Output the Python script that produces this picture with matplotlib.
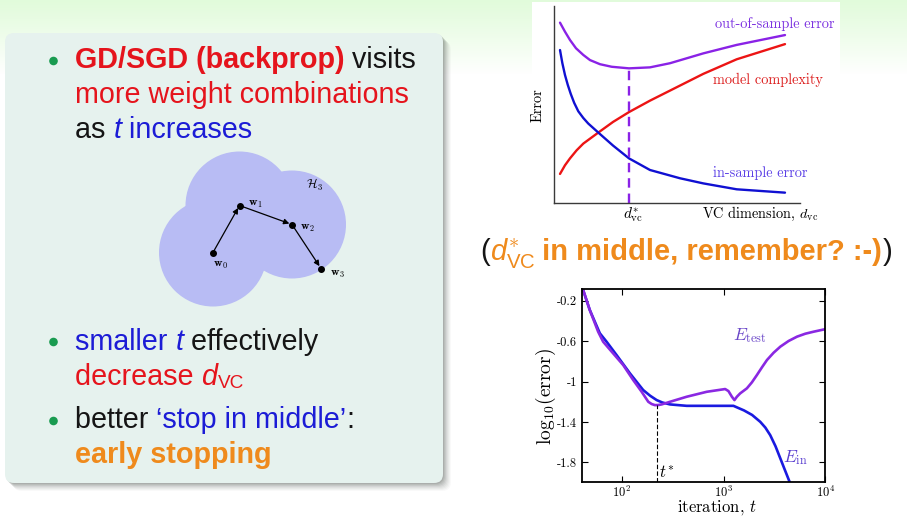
import numpy as np
import matplotlib
matplotlib.use('Agg')
import matplotlib.pyplot as plt
from matplotlib.patches import FancyBboxPatch, Circle, Rectangle, FancyArrowPatch
from matplotlib.ticker import NullLocator

plt.rcParams['mathtext.fontset'] = 'cm'
plt.rcParams['mathtext.rm'] = 'Liberation Sans'
plt.rcParams['mathtext.it'] = 'Liberation Sans:italic'
plt.rcParams['mathtext.bf'] = 'Liberation Sans:bold'
plt.rcParams['axes.unicode_minus'] = False

# ---------------- data: top chart (VC dimension, arbitrary units 0..10) ----------------
out_x = [0.244, 0.447, 0.650, 0.894, 1.191, 1.463, 1.870, 2.346, 3.049, 3.902, 4.715, 6.069, 7.427, 9.390]
out_y = [9.14, 8.68, 8.26, 7.84, 7.50, 7.24, 7.03, 6.90, 6.82, 6.87, 7.08, 7.58, 8.01, 8.51]
cpx_x = [0.244, 0.447, 0.650, 0.920, 1.191, 1.801, 2.400, 3.049, 3.902, 4.715, 6.069, 7.427, 9.390]
cpx_y = [1.46, 1.90, 2.25, 2.66, 3.00, 3.56, 4.10, 4.60, 5.18, 5.69, 6.54, 7.28, 8.05]
ins_x = [0.244, 0.340, 0.447, 0.560, 0.679, 0.820, 0.988, 1.191, 1.391, 1.801, 2.400, 3.049, 3.902,
         5.122, 6.069, 7.427, 9.390]
ins_y = [7.75, 7.08, 6.48, 5.98, 5.53, 5.07, 4.64, 4.30, 4.02, 3.56, 2.90, 2.25, 1.66,
         1.24, 0.98, 0.68, 0.51]
d_star = 3.049
d_star_top = 6.82

# ---------------- data: bottom chart (log10 iteration vs log10 error) ----------------
ein_logt = [1.615, 1.688, 1.787, 1.853, 1.951, 2.082, 2.212, 2.280, 2.344, 2.400, 2.475, 2.639, 2.901, 3.097,
            3.147, 3.200, 3.280, 3.360, 3.410, 3.458, 3.510, 3.557, 3.600, 3.648]
ein_val = [-0.07, -0.292, -0.523, -0.606, -0.738, -0.919, -1.084, -1.140, -1.183, -1.207, -1.226, -1.240, -1.240, -1.240,
           -1.262, -1.285, -1.330, -1.398, -1.455, -1.530, -1.640, -1.760, -1.870, -1.992]
etest_logt = [1.615, 1.688, 1.770, 1.819, 1.917, 2.016, 2.114, 2.197, 2.262, 2.295, 2.327, 2.360, 2.393, 2.475, 2.639,
              2.836, 3.016, 3.048, 3.082, 3.107, 3.131, 3.163, 3.229, 3.278, 3.327, 3.377, 3.426, 3.491, 3.557,
              3.638, 3.721, 3.802, 3.884, 4.016]
etest_val = [-0.07, -0.292, -0.507, -0.606, -0.721, -0.837, -0.985, -1.101, -1.200, -1.222, -1.233, -1.232, -1.226, -1.200, -1.150,
             -1.101, -1.074, -1.094, -1.150, -1.183, -1.150, -1.117, -1.067, -1.008, -0.936, -0.859, -0.787, -0.715, -0.655,
             -0.599, -0.556, -0.527, -0.507, -0.478]
t_star_log = 2.344
t_star_val = -1.233
ytick_vals = [-0.2, -0.6, -1.0, -1.4, -1.8]
ytick_labels = ['-0.2', '-0.6', '-1', '-1.4', '-1.8']
xtick_vals = [1e2, 1e3, 1e4]
xtick_labels = [r'$10^2$', r'$10^3$', r'$10^4$']

# ---------------- data: weight path diagram ----------------
w_names = [r'$\mathbf{w}_0$', r'$\mathbf{w}_1$', r'$\mathbf{w}_2$', r'$\mathbf{w}_3$']
w_px = [213, 239.5, 292, 321]
w_py = [252.5, 205.5, 224.5, 268.5]

# ---------------- slide text ----------------
RED = '#e5141c'
BLUE = '#1c1cd6'
BLACK = '#151515'
ORANGE = '#ef8a1c'
GREEN = '#199b50'
lines = [
    (68, [("GD/SGD (backprop)", RED, {'weight': 'bold'}), (" visits", BLACK)]),
    (103, [("more weight combinations", RED)]),
    (138, [("as ", BLACK), ("t", BLUE, {'style': 'italic'}), (" increases", BLUE)]),
    (350, [("smaller ", BLUE), ("t", BLUE, {'style': 'italic'}), (" effectively", BLACK)]),
    (385, [("decrease ", RED), ("d", RED, {'style': 'italic'}), ("VC", RED, {'scale': 0.66, 'dy': 3})]),
    (428, [("better ", BLACK), ("\u2018stop in middle\u2019", BLUE), (":", BLACK)]),
    (463, [("early stopping", ORANGE, {'weight': 'bold'})]),
]
bullet_y = [61, 342, 421]
middle_line = [("(", BLACK), (r"$d^{\ast}_{\mathrm{VC}}$", ORANGE, {'math': True}),
               (" in middle, remember? :-)", ORANGE, {'weight': 'bold'}), (")", BLACK)]

W, H = 907, 529
FS = 20.7
SANS = 'Liberation Sans'
CM = 'cmr10'

fig = plt.figure(figsize=(W / 100, H / 100), dpi=100)
fig.patch.set_facecolor('white')
bg = fig.add_axes([0, 0, 1, 1])
bg.axis('off')
renderer = fig.canvas.get_renderer()

# top green gradient
rows = 75
g = np.linspace(0, 1, rows)[:, None]
topc = np.array([0.885, 0.985, 0.86])
col = topc[None, :] + (1 - topc[None, :]) * g ** 1.1
bg.imshow(col[:, None, :], extent=[0, W, rows, 0], aspect='auto', zorder=0, interpolation='bilinear')
bg.set_xlim(0, W)
bg.set_ylim(H, 0)

# white area behind the top chart
bg.add_patch(Rectangle((532, 2), 308, 230, fc='white', ec='none', zorder=0.5))

# box with shadow
bx, by, bw, bh = 5, 33, 438, 450
for i, a in enumerate([0.12, 0.10, 0.09, 0.07, 0.06, 0.05, 0.04, 0.03]):
    off = 1 + i
    bg.add_patch(FancyBboxPatch((bx + off, by + off), bw, bh, boxstyle='round,pad=0,rounding_size=9',
                                fc='#4a524c', ec='none', alpha=a, zorder=1))
bg.add_patch(FancyBboxPatch((bx, by), bw, bh, boxstyle='round,pad=0,rounding_size=9',
                            fc='#e6f2ee', ec='none', zorder=2))


def advance(s, kw):
    a = bg.text(0, 0, s + '|', **kw)
    b = bg.text(0, 0, '|', **kw)
    w = a.get_window_extent(renderer).width - b.get_window_extent(renderer).width
    a.remove()
    b.remove()
    return w


def run_line(x, y, runs, base=FS):
    for r in runs:
        s, color = r[0], r[1]
        opt = r[2] if len(r) > 2 else {}
        kw = dict(color=color, fontsize=base * opt.get('scale', 1), fontweight=opt.get('weight', 'normal'),
                  fontstyle=opt.get('style', 'normal'), family=SANS, va='baseline', ha='left', zorder=5)
        if opt.get('math', False):
            kw['math_fontfamily'] = 'custom'
        bg.text(x + opt.get('dx', 0), y + opt.get('dy', 0), s, **kw)
        if opt.get('advance', True):
            x += advance(s, kw)


for y, runs in lines:
    run_line(75, y, runs)
for y in bullet_y:
    bg.add_patch(Circle((53.5, y), 4.3, fc=GREEN, ec='none', zorder=5))
run_line(480, 260, middle_line, base=21.0)

# weight-space diagram
for i in range(3):
    bg.add_patch(Circle((w_px[i], w_py[i]), 54, fc='#b8bcf4', ec='none', zorder=3))
for i in range(3):
    bg.add_patch(FancyArrowPatch((w_px[i], w_py[i]), (w_px[i + 1], w_py[i + 1]), arrowstyle='-|>',
                                 mutation_scale=8, shrinkA=0, shrinkB=2, lw=0.9, color='black', zorder=4))
bg.plot(w_px, w_py, 'o', ms=4, color='black', zorder=4)
lab_off = [(7, 12), (16, -2), (15, 3), (16, 5)]
for i in range(4):
    bg.text(w_px[i] + lab_off[i][0], w_py[i] + lab_off[i][1], w_names[i], fontsize=8.5,
            ha='center', va='center', zorder=5)
bg.text(314, 185, r'$\mathcal{H}_3$', fontsize=9, ha='center', va='center', zorder=5)

# ---------------- top chart ----------------
PURPLE = '#8a22e6'
ax1 = fig.add_axes([554 / W, 1 - 202.7 / H, 246 / W, (202.7 - 5.7) / H])
ax1.patch.set_alpha(0)
ax1.set_xlim(0, 10)
ax1.set_ylim(0, 10)
for s in ['top', 'right']:
    ax1.spines[s].set_visible(False)
for s in ['left', 'bottom']:
    ax1.spines[s].set_color('#3a3a3a')
    ax1.spines[s].set_linewidth(1.0)
ax1.set_xticks([])
ax1.set_yticks([])
ax1.plot(cpx_x, cpx_y, color='#ec1414', lw=1.7, solid_capstyle='round', solid_joinstyle='round')
ax1.plot(ins_x, ins_y, color='#1010d2', lw=1.7, solid_capstyle='round', solid_joinstyle='round')
ax1.plot(out_x, out_y, color=PURPLE, lw=1.7, solid_capstyle='round', solid_joinstyle='round')
ax1.plot([d_star, d_star], [0, d_star_top], color=PURPLE, lw=1.7, dashes=(4, 2.5))

bg.text(715, 28, 'out-of-sample error', family=CM, fontsize=10.3, color='#7b30e0', va='baseline')
bg.text(713, 84, 'model complexity', family=CM, fontsize=10.3, color='#dc1e1e', va='baseline')
bg.text(713, 177, 'in-sample error', family=CM, fontsize=10.3, color='#5b40e6', va='baseline')
bg.text(538, 105, 'Error', family=CM, fontsize=10.4, rotation=90, ha='center', va='center')
bg.text(633, 215, r'$d^{*}_{\rm vc}$', fontsize=11, ha='center', va='center')
bg.text(702, 218, r'VC dimension, $d_{\rm vc}$', family=CM, fontsize=10.3, va='baseline')

# ---------------- bottom chart ----------------
ax2 = fig.add_axes([581.5 / W, 1 - 481.7 / H, 244 / W, (481.7 - 289) / H])
ax2.patch.set_alpha(0)
ax2.set_xscale('log')
ax2.set_xlim(10 ** 1.607, 1e4)
ax2.set_ylim(-1.99, -0.085)
ax2.plot(10 ** np.array(ein_logt), ein_val, color='#1a1ae0', lw=1.9, solid_joinstyle='round')
ax2.plot(10 ** np.array(etest_logt), etest_val, color='#8a28e2', lw=1.9, solid_joinstyle='round')
ax2.plot([10 ** t_star_log] * 2, [-1.99, t_star_val], color='black', lw=0.8, dashes=(4, 2))
ax2.xaxis.set_minor_locator(NullLocator())
ax2.set_xticks(xtick_vals, xtick_labels, fontsize=9)
ax2.set_yticks(ytick_vals, ytick_labels, fontsize=9, family=CM)
ax2.tick_params(direction='in', top=True, right=True, length=4, width=0.8, pad=3)
ax2.tick_params(axis='x', pad=2)
for s in ax2.spines.values():
    s.set_linewidth(1.3)
    s.set_color('black')

bg.text(733, 340, r'$E_{\rm test}$', fontsize=12.5, color='#6a46c8', va='baseline')
bg.text(783, 462, r'$E_{\rm in}$', fontsize=12.5, color='#5a3fd0', va='baseline')
bg.text(659, 478, r'$t^{*}$', fontsize=12, color='black', va='baseline')
bg.text(546, 396, r'log$_{10}$(error)', family=CM, fontsize=14, rotation=90, ha='center', va='center')
bg.text(717, 512, r'iteration, $t$', family=CM, fontsize=12, ha='center', va='baseline')

fig.savefig('out.png', dpi=100)
